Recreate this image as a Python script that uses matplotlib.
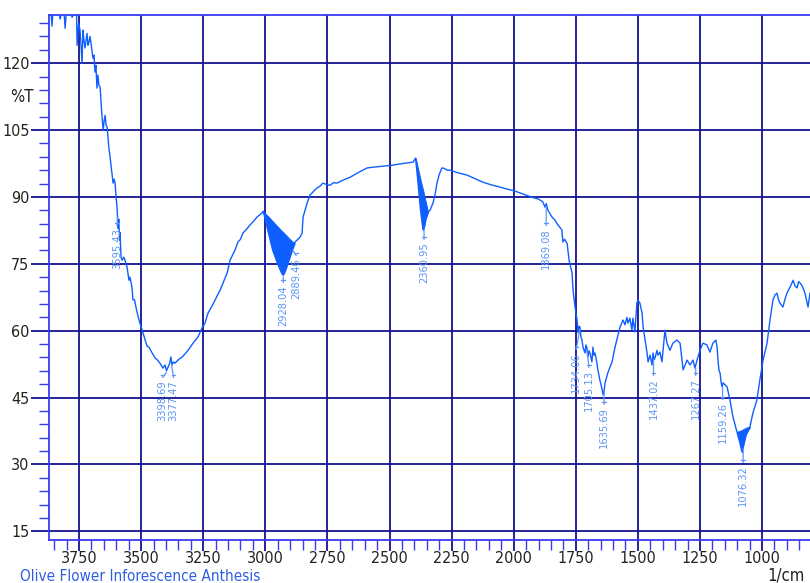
import numpy as np
import matplotlib
matplotlib.use("Agg")
import matplotlib.pyplot as plt
from matplotlib.ticker import MultipleLocator
from matplotlib import font_manager

# ---- spectrum (wavenumber, %T) ----
wavenumber = [3871, 3862, 3859, 3855, 3851, 3840, 3830, 3826, 3822, 3818, 3810, 3806, 3802, 3798,
              3785, 3778, 3770, 3766, 3760, 3758, 3752, 3746, 3742, 3738, 3734, 3730, 3726, 3718,
              3714, 3710, 3706, 3702, 3694, 3690, 3686, 3682, 3678, 3674, 3670, 3665, 3660, 3653,
              3649, 3645, 3641, 3637, 3630, 3625, 3619, 3613, 3609, 3605, 3601, 3597, 3593, 3590,
              3587, 3585, 3581, 3577, 3570, 3565, 3557, 3549, 3545, 3537, 3533, 3527, 3521, 3512,
              3504, 3496, 3484, 3476, 3468, 3456, 3444, 3436, 3424, 3412, 3404, 3398, 3392, 3386,
              3380, 3376, 3370, 3364, 3350, 3335, 3320, 3311, 3291, 3271, 3255, 3243, 3231, 3215,
              3202, 3182, 3168, 3154, 3142, 3122, 3110, 3100, 3090, 3075, 3062, 3048, 3033, 3013,
              3009, 3005, 2990, 2970, 2950, 2935, 2929, 2920, 2905, 2890, 2882, 2880, 2860, 2852,
              2848, 2840, 2832, 2820, 2805, 2792, 2780, 2768, 2755, 2740, 2725, 2711, 2690, 2659,
              2625, 2590, 2560, 2526, 2490, 2458, 2430, 2405, 2395, 2385, 2375, 2365, 2360, 2355,
              2345, 2337, 2325, 2315, 2309, 2300, 2289, 2280, 2268, 2256, 2230, 2210, 2188, 2160,
              2140, 2124, 2090, 2055, 2030, 2000, 1970, 1950, 1925, 1900, 1885, 1882, 1874, 1869,
              1862, 1846, 1834, 1822, 1806, 1802, 1795, 1785, 1777, 1765, 1761, 1753, 1745, 1741,
              1737, 1733, 1729, 1725, 1721, 1713, 1709, 1705, 1701, 1697, 1693, 1685, 1681, 1677,
              1673, 1669, 1665, 1661, 1653, 1645, 1640, 1636, 1632, 1620, 1604, 1592, 1580, 1572,
              1560, 1552, 1544, 1540, 1532, 1524, 1520, 1512, 1504, 1500, 1492, 1483, 1479, 1471,
              1463, 1459, 1451, 1443, 1439, 1435, 1431, 1423, 1419, 1411, 1403, 1391, 1383, 1371,
              1359, 1343, 1330, 1318, 1302, 1290, 1278, 1270, 1266, 1262, 1250, 1238, 1222, 1210,
              1198, 1186, 1181, 1177, 1173, 1169, 1165, 1161, 1157, 1141, 1129, 1117, 1101, 1090,
              1081, 1075, 1065, 1055, 1049, 1037, 1021, 1009, 996, 980, 968, 956, 948, 940, 934,
              928, 916, 908, 900, 887, 875, 867, 859, 853, 847, 838, 827, 815, 807]
transmittance = [132, 131, 128.3, 131.5, 132, 131.5, 131, 129.9, 131, 132, 131, 127.8, 131, 132,
                 131.5, 130.3, 131, 132, 131, 124.0, 129, 127.4, 124, 120.0, 127.4, 125, 123.4, 126.7,
                 124, 124.7, 126, 124.5, 121.1, 121.8, 118.0, 119.5, 114.4, 117.3, 115, 114.6, 110, 105.0,
                 107, 108.3, 106, 105.7, 101, 98.9, 96, 93.1, 94, 93.1, 90, 87.7, 83, 85,
                 80.3, 82, 76.5, 75.8, 76.5, 75.8, 74.3, 71.3, 72, 69.8, 66.9, 67, 65.3, 63.1,
                 61.5, 60.1, 57.9, 56.5, 56.3, 55.0, 53.9, 53.5, 52.7, 51.6, 52.3, 51.0, 51.8, 52.5,
                 54.1, 52.3, 53, 52.7, 53.5, 54.1, 55, 55.6, 57.2, 58.6, 60.6, 61.7, 63.9, 65.5,
                 66.9, 69.1, 71, 72.9, 75.8, 78.1, 79.9, 80.5, 81.9, 82.8, 83.7, 84.5, 85.5, 86.4,
                 86.8, 86.0, 82.5, 78, 75, 73, 72.5, 73.5, 76, 78.5, 79.6, 79.9, 81.0, 81.9,
                 85.5, 87, 88.6, 90.4, 91.3, 92.0, 92.4, 93.1, 92.8, 92.6, 93.2, 93.1, 93.7, 94.4,
                 95.5, 96.5, 96.7, 96.9, 97.1, 97.4, 97.6, 97.8, 98.7, 93, 87, 82.6, 83.5, 85,
                 86.6, 87.0, 88.6, 91, 93.1, 95, 96.5, 96.4, 96.0, 96.0, 95.5, 95.2, 94.9, 94.2,
                 93.7, 93.3, 92.7, 92.2, 91.8, 91.4, 90.8, 90.4, 89.9, 89.5, 89.0, 88.8, 87.7, 88.5,
                 87.0, 85.5, 84.8, 83.7, 82.6, 79.9, 80.5, 79.6, 75.8, 72.9, 69.1, 65.3, 62.4, 59.5,
                 61, 60.8, 58.5, 57.9, 56.3, 55.0, 56.8, 56.1, 54.1, 55.5, 55.0, 53.0, 56.3, 54.5,
                 55.0, 54, 52.7, 51.2, 48.9, 47.1, 45.6, 46.5, 48.3, 50.7, 53.0, 56.3, 59.0, 60.8,
                 62.4, 61.3, 63.0, 61.7, 62.8, 60.1, 62.8, 59.7, 66.2, 66.9, 66.2, 63.9, 60.8, 57.9,
                 55.0, 53.0, 54.5, 52.3, 55.0, 53.5, 53.9, 55.6, 54.5, 55.2, 53.0, 60.1, 57.2, 55.6,
                 57.2, 57.9, 57.2, 51.2, 53.4, 52.3, 53.4, 51.6, 52.5, 53.4, 55.6, 57.2, 56.8, 55.2,
                 57.2, 57.9, 56.3, 53, 51, 50.5, 48.5, 47.4, 48.3, 47.4, 44.4, 40.6, 37.3, 35,
                 32.8, 34.5, 36.8, 37.8, 38.4, 41.5, 44.4, 48.9, 53.4, 57.2, 62.4, 66.9, 68, 68.4, 67,
                 66.2, 65.3, 67, 68.4, 69.8, 71.3, 70, 69.6, 71, 70.7, 70, 68.4, 65.3, 68.4]

# dense noisy bands (upper envelope / lower envelope)
band1_wn = [3009, 3005, 2990, 2970, 2950, 2935, 2929, 2920, 2905, 2890, 2882]
band1_hi = [86.8, 86.5, 85.7, 84.5, 83.3, 82.4, 82.1, 81.6, 80.7, 79.9, 79.6]
band1_lo = [86.8, 86.0, 82.5, 78.0, 75.0, 73.0, 72.5, 73.5, 76.0, 78.5, 79.6]
band2_wn = [2395, 2385, 2375, 2365, 2360, 2355, 2345]
band2_hi = [98.7, 96.2, 93.7, 91.5, 90.2, 89.0, 86.6]
band2_lo = [98.7, 93.0, 87.0, 82.6, 83.5, 85.0, 86.6]
band3_wn = [1101, 1090, 1081, 1075, 1065, 1055, 1049]
band3_hi = [37.3, 37.5, 37.7, 37.9, 38.2, 38.4, 38.4]
band3_lo = [37.3, 35.0, 32.8, 34.5, 36.8, 37.8, 38.4]

# peak labels: value, label-position wavenumber, %T at top of label
peak_values = [3595.43, 3398.69, 3377.47, 2928.04, 2889.46, 2360.95, 1869.08,
               1734.06, 1705.13, 1635.69, 1437.02, 1267.27, 1159.26, 1076.32]
label_wn = [3597, 3414, 3370, 2928, 2876, 2361, 1869, 1748, 1697, 1636, 1437, 1267, 1159, 1076]
label_top = [83.0, 48.9, 48.9, 70.2, 76.3, 79.9, 83.0, 55.2, 51.2, 42.9, 49.4, 49.4, 44.0, 29.9]

x_ticks = [3750, 3500, 3250, 3000, 2750, 2500, 2250, 2000, 1750, 1500, 1250, 1000]
y_ticks = [15, 30, 45, 60, 75, 90, 105, 120]

# narrow-looking text: use condensed DejaVu when installed, else shrink normal DejaVu
condensed = any('DejaVuSansCondensed' in f.fname.replace('-', '')
                for f in font_manager.fontManager.ttflist)
plt.rcParams['font.family'] = ['DejaVu Sans']
if condensed:
    plt.rcParams['font.stretch'] = 'condensed'
    k = 1.0
else:
    k = 0.8

LINE = '#0f5fff'
LABEL = '#5b95f5'
GRID = '#12128f'
SPINE = '#3a3af0'

fig = plt.figure(figsize=(8.10, 5.83), dpi=100)
ax = fig.add_axes([49 / 810, 1 - 540 / 583, 1 - 49 / 810, (540 - 15) / 583])

ax.set_xlim(3871, 807)
ax.set_ylim(13.05, 130.8)

ax.plot(wavenumber, transmittance, color=LINE, lw=1.0, zorder=3)
for bw, bh, bl in [(band1_wn, band1_hi, band1_lo), (band2_wn, band2_hi, band2_lo),
                   (band3_wn, band3_hi, band3_lo)]:
    ax.fill_between(bw, bl, bh, color=LINE, lw=0.8, zorder=3)

# peak markers and labels
wn_asc = np.array(wavenumber[::-1], dtype=float)
t_asc = np.array(transmittance[::-1], dtype=float)
for pv, lx, lt in zip(peak_values, label_wn, label_top):
    tc = np.interp(pv, wn_asc, t_asc)
    ax.plot([pv, lx], [tc - 0.6, lt + 0.6], color=LABEL, lw=0.9, zorder=4)
    ax.plot([lx - 7, lx + 7], [lt + 1.2, lt + 1.2], color=LABEL, lw=0.9, zorder=4)
    ax.text(lx, lt, f"{pv:.2f}", rotation=90, ha='center', va='top',
            color=LABEL, fontsize=7.9 * k, zorder=5)

# grid / ticks
ax.set_xticks(x_ticks)
ax.set_yticks(y_ticks)
ax.xaxis.set_minor_locator(MultipleLocator(50))
ax.yaxis.set_minor_locator(MultipleLocator(3))
ax.grid(True, which='major', color=GRID, lw=1.3, zorder=1)
ax.tick_params(axis='both', which='major', direction='out', width=1.3,
               color=GRID, labelsize=11.5 * k, labelcolor='#222222')
ax.tick_params(axis='both', which='minor', direction='out', length=7, width=1.0, color=SPINE)
ax.tick_params(axis='x', which='major', length=8, pad=0)
ax.tick_params(axis='y', which='major', length=13, pad=1)

for s in ['left', 'top', 'bottom']:
    ax.spines[s].set_color(SPINE)
    ax.spines[s].set_linewidth(1.3)
ax.spines['right'].set_visible(False)

fig.text(22 / 810, 1 - 97 / 583, '%T', ha='center', va='center', fontsize=12 * k, color='#222222')
fig.text(20 / 810, 1 - 581 / 583, 'Olive Flower Inforescence Anthesis', ha='left', va='baseline',
         fontsize=11 * k, color='#2f5fe0')
fig.text(805 / 810, 1 - 580 / 583, '1/cm', ha='right', va='baseline', fontsize=12 * k, color='#222222')

fig.savefig('out.png', dpi=100)
